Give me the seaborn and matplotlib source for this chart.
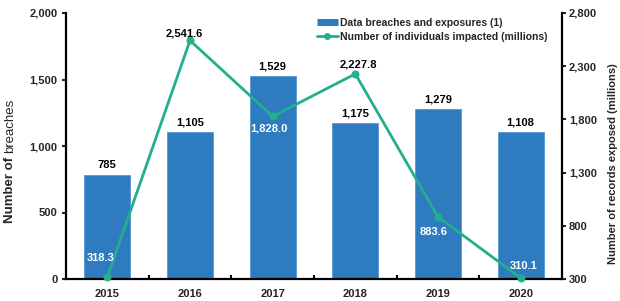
import numpy as np
import pandas as pd
import matplotlib
matplotlib.use('Agg')
import matplotlib.pyplot as plt
import seaborn as sns
from matplotlib.lines import Line2D

# ---- data ----
years = ['2015', '2016', '2017', '2018', '2019', '2020']
breaches = [785, 1105, 1529, 1175, 1279, 1108]
records = [318.3, 2541.6, 1828.0, 2227.8, 883.6, 310.1]
left_ticks = [0, 500, 1000, 1500, 2000]
right_ticks = [300, 800, 1300, 1800, 2300, 2800]
bar_name = 'Data breaches and exposures (1)'
line_name = 'Number of individuals impacted (millions)'
left_label = ('Number of', 'breaches')
right_label = 'Number of records exposed (millions)'

# ---- style ----
sns.set_style('ticks')
plt.rcParams['font.family'] = ['Liberation Sans', 'DejaVu Sans']
plt.rcParams['font.weight'] = 'bold'
BLUE = '#2E7BBF'
TEAL = '#22AF8E'
W, H = 620, 301

fig = plt.figure(figsize=(W / 100, H / 100), dpi=100)
ax = fig.add_axes([66 / W, (H - 279) / H, (562 - 66) / W, (279 - 13) / H])

df = pd.DataFrame({'year': years, 'breaches': breaches, 'records': records})
sns.barplot(data=df, x='year', y='breaches', ax=ax, color=BLUE, width=0.56,
            saturation=1, edgecolor='#5597d3', linewidth=0.6)

ax2 = ax.twinx()
sns.lineplot(x=np.arange(len(years)), y=df['records'].values, ax=ax2, color=TEAL,
             lw=2, marker='o', markersize=5, markeredgecolor=TEAL, clip_on=False)

ax.set_xlim(-0.5, len(years) - 0.5)
ax.set_ylim(0, 2000)
ax2.set_ylim(300, 2800)
ax.set_yticks(left_ticks)
ax.set_yticklabels([f'{t:,}' for t in left_ticks])
ax2.set_yticks(right_ticks)
ax2.set_yticklabels([f'{t:,}' for t in right_ticks])
ax.set_xticks(range(len(years)))
ax.set_xticklabels(years)
ax.set_xticks(np.arange(0.5, len(years) - 1, 1), minor=True)
ax.set_xlabel('')
ax.set_ylabel('')
ax2.set_ylabel('')

ax.tick_params(axis='x', which='major', length=0, pad=7, labelsize=8)
ax.tick_params(axis='x', which='minor', direction='in', length=3, width=1.5, color='black')
ax.tick_params(axis='y', direction='out', length=3, width=1.5, pad=3, labelsize=8)
ax2.tick_params(axis='y', direction='out', length=3, width=1.5, pad=2, labelsize=8)
for lab in ax.get_xticklabels() + ax.get_yticklabels() + ax2.get_yticklabels():
    lab.set_fontweight('bold')

for s in ['top', 'right']:
    ax.spines[s].set_visible(False)
for s in ['top', 'left', 'bottom']:
    ax2.spines[s].set_visible(False)
for s in ['left', 'bottom']:
    ax.spines[s].set_linewidth(1.6)
    ax.spines[s].set_color('black')
ax2.spines['right'].set_linewidth(1.6)
ax2.spines['right'].set_color('black')

# bar value labels
ax.bar_label(ax.containers[0], labels=[f'{v:,}' for v in breaches], padding=3,
             fontsize=8, fontweight='bold', color='black')

# line value labels (offsets in points, colours)
offsets = [(-5, 14), (-4, 5), (-3, -9), (2, 6.5), (-3.5, -11), (2, 8.5)]
colors = ['white', 'black', 'white', 'black', 'white', 'white']
for i, v in enumerate(records):
    ax2.annotate(f'{v:,.1f}', xy=(i, v), xytext=offsets[i], textcoords='offset points',
                 ha='center', va='center', color=colors[i], fontsize=8,
                 fontweight='bold', zorder=6)

# legend
handles = [Line2D([], [], color=BLUE, lw=5, solid_capstyle='butt'),
           Line2D([], [], color=TEAL, lw=2, marker='o', markersize=4)]
fig.legend(handles, [bar_name, line_name], loc='upper left',
           bbox_to_anchor=(317 / W, (H - 18) / H), frameon=False,
           handlelength=2.0, handletextpad=0.2, labelspacing=0.35,
           borderpad=0, borderaxespad=0, prop={'weight': 'bold', 'size': 7.5})

# axis titles
t1 = fig.text(16 / W, (H - 223) / H, left_label[0], rotation=90, ha='right',
              va='bottom', fontsize=9.5, fontweight='bold')
ax.annotate(left_label[1], xy=(1, 1), xycoords=t1, xytext=(0, 2.5),
            textcoords='offset points', rotation=90, ha='right', va='bottom',
            fontsize=9.5, fontweight='normal', annotation_clip=False)
fig.text(613 / W, (H - 163.5) / H, right_label, rotation=90, ha='center',
         va='center', fontsize=8, fontweight='bold')

fig.savefig('out.png', dpi=100)
